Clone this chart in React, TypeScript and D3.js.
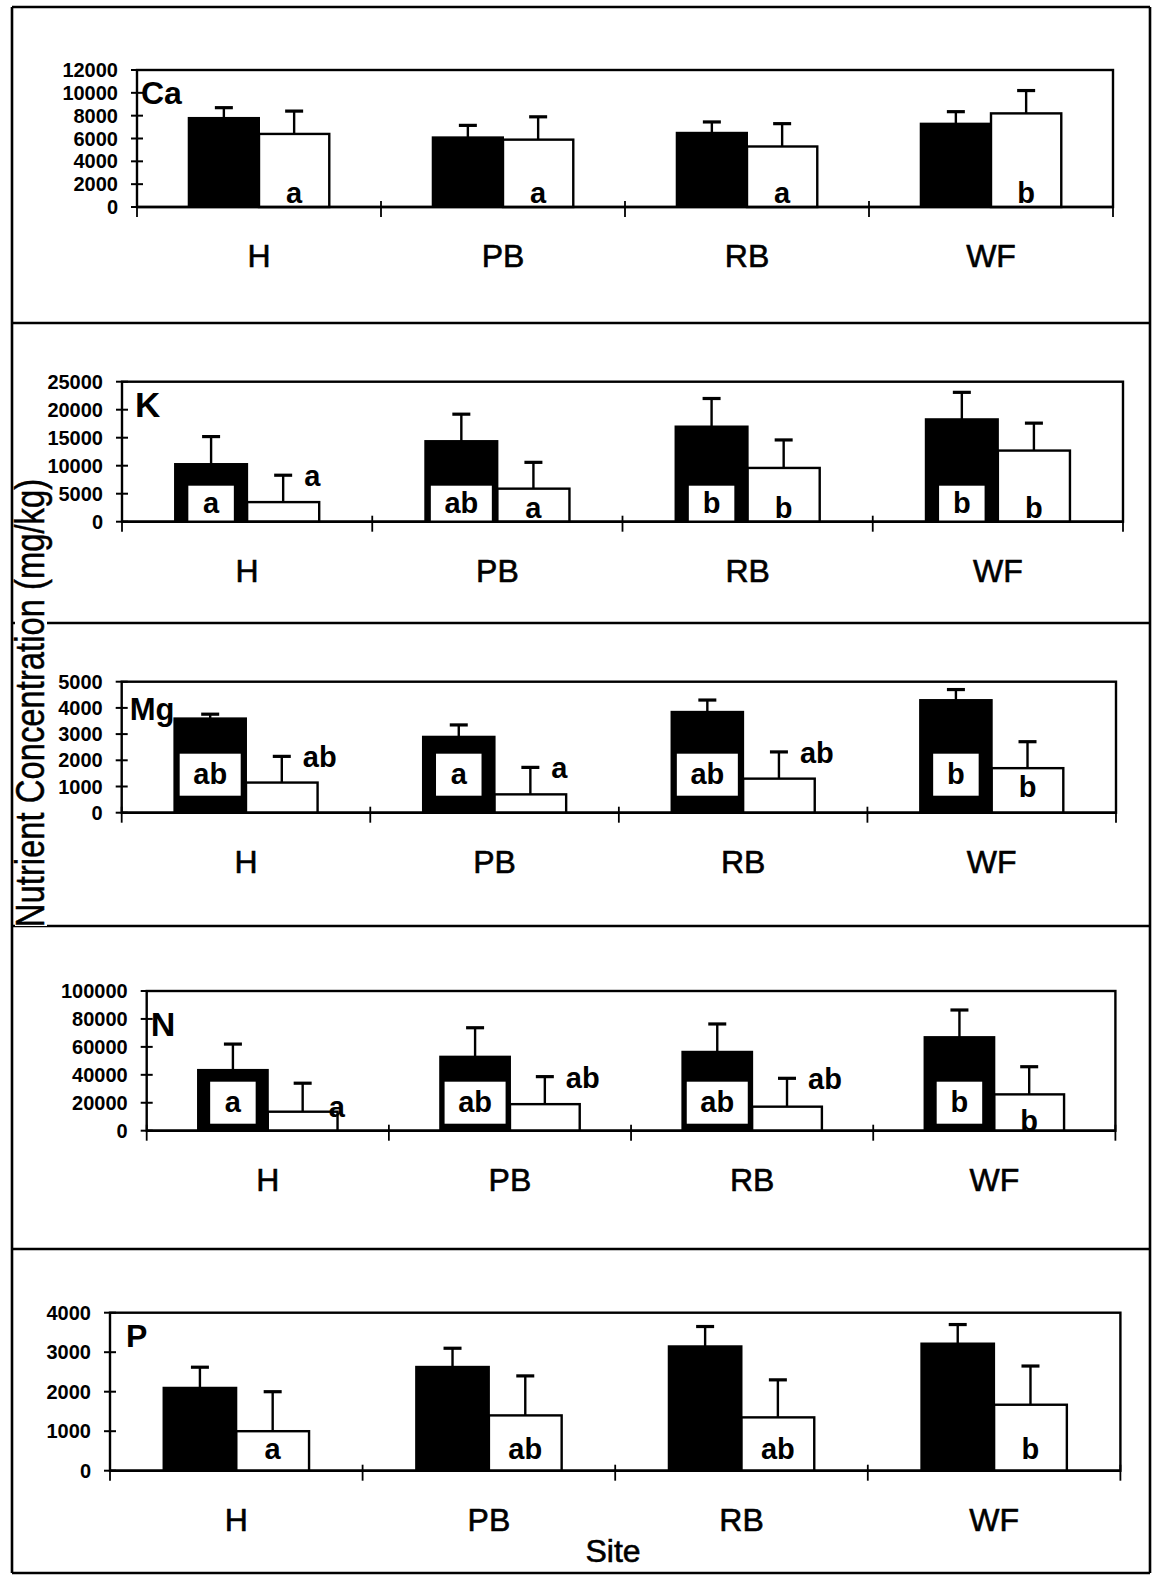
import React from "react";
import * as d3 from "d3";

// ---------- data ----------
const sites = ["H", "PB", "RB", "WF"];
const seriesKeys = ["dark", "open"];

const caDark = [7800, 6100, 6500, 7300];
const caDarkSd = [900, 1050, 950, 1050];
const caOpen = [6400, 5900, 5300, 8200];
const caOpenSd = [2000, 2000, 2000, 2000];
const caDarkLetters = ["", "", "", ""];
const caOpenLetters = ["a", "a", "a", "b"];
const caOpenPlace = ["in", "in", "in", "in"];

const kDark = [10300, 14400, 17000, 18300];
const kDarkSd = [4900, 4800, 5000, 4800];
const kOpen = [3500, 5900, 9600, 12700];
const kOpenSd = [4800, 4700, 5000, 4900];
const kDarkLetters = ["a", "ab", "b", "b"];
const kOpenLetters = ["a", "a", "b", "b"];
const kOpenPlace = ["right", "in", "in", "in"];

const mgDark = [3600, 2900, 3850, 4300];
const mgDarkSd = [160, 450, 450, 400];
const mgOpen = [1150, 700, 1300, 1700];
const mgOpenSd = [1000, 1030, 1020, 1010];
const mgDarkLetters = ["ab", "a", "ab", "b"];
const mgOpenLetters = ["ab", "a", "ab", "b"];
const mgOpenPlace = ["right", "right", "right", "in"];

const nDark = [43500, 53000, 56500, 67000];
const nDarkSd = [18500, 20700, 19900, 19400];
const nOpen = [13600, 19000, 17200, 26000];
const nOpenSd = [20400, 19700, 20300, 19800];
const nDarkLetters = ["a", "ab", "ab", "b"];
const nOpenLetters = ["a", "ab", "ab", "b"];
const nOpenPlace = ["low", "right", "right", "in"];

const pDark = [2100, 2630, 3150, 3220];
const pDarkSd = [520, 470, 500, 480];
const pOpen = [1000, 1400, 1350, 1670];
const pOpenSd = [1000, 1000, 950, 980];
const pDarkLetters = ["", "", "", ""];
const pOpenLetters = ["a", "ab", "ab", "b"];
const pOpenPlace = ["in", "in", "in", "in"];

const nutrients = ["Ca", "K", "Mg", "N", "P"];
const yMax = [12000, 25000, 5000, 100000, 4000];
const yStep = [2000, 5000, 1000, 20000, 1000];
const yAxisTitle = "Nutrient Concentration (mg/kg)";
const xAxisTitle = "Site";

const panelsData = [
  { dark: caDark, darkSd: caDarkSd, open: caOpen, openSd: caOpenSd, dl: caDarkLetters, ol: caOpenLetters, op: caOpenPlace },
  { dark: kDark, darkSd: kDarkSd, open: kOpen, openSd: kOpenSd, dl: kDarkLetters, ol: kOpenLetters, op: kOpenPlace },
  { dark: mgDark, darkSd: mgDarkSd, open: mgOpen, openSd: mgOpenSd, dl: mgDarkLetters, ol: mgOpenLetters, op: mgOpenPlace },
  { dark: nDark, darkSd: nDarkSd, open: nOpen, openSd: nOpenSd, dl: nDarkLetters, ol: nOpenLetters, op: nOpenPlace },
  { dark: pDark, darkSd: pDarkSd, open: pOpen, openSd: pOpenSd, dl: pDarkLetters, ol: pOpenLetters, op: pOpenPlace },
];

// ---------- layout ----------
const W = 1154;
const H = 1575;
const frameX0 = 12;
const frameX1 = 1150;
const frameYs = [7, 323, 623, 926, 1249, 1573];
const layout = [
  { left: 137, top: 70, right: 1113, bottom: 207, nameDx: 4, nameDy: 34, nameSize: 32, inLift: 4, boxLift: 0, boxH: 36 },
  { left: 122, top: 381.7, right: 1123, bottom: 521.7, nameDx: 13, nameDy: 35, nameSize: 35, inLift: 4, boxLift: 0, boxH: 36 },
  { left: 121.7, top: 681.7, right: 1116, bottom: 812.7, nameDx: 8, nameDy: 38, nameSize: 31, inLift: 16, boxLift: 17, boxH: 42 },
  { left: 146.7, top: 991, right: 1115.4, bottom: 1130.7, nameDx: 4, nameDy: 45, nameSize: 34, inLift: 0, boxLift: 7, boxH: 42 },
  { left: 110, top: 1312.7, right: 1120.4, bottom: 1470.7, nameDx: 16, nameDy: 34, nameSize: 32, inLift: 12, boxLift: 0, boxH: 36 },
];

const FONT = "'Liberation Sans', Arial, Helvetica, sans-serif";
const INK = "#000";

function Panel({ i }: { i: number }) {
  const L = layout[i];
  const d = panelsData[i];
  const x = d3.scaleBand<string>().domain(sites).range([L.left, L.right]).paddingInner(0).paddingOuter(0);
  const sub = d3
    .scaleBand<string>()
    .domain(seriesKeys)
    .range([0, x.bandwidth()])
    .paddingInner(0)
    .paddingOuter(0.736);
  const y = d3.scaleLinear().domain([0, yMax[i]]).range([L.bottom, L.top]);
  const ticks = d3.range(0, yMax[i] + 1, yStep[i]);
  const bw = sub.bandwidth();
  const letterSize = 29;
  const boundaries = [...sites.map((s) => x(s) as number), L.right];

  return (
    <g>
      <rect x={L.left} y={L.top} width={L.right - L.left} height={L.bottom - L.top} fill="none" stroke={INK} strokeWidth={2.4} />

      {sites.map((s, k) => {
        const x0 = (x(s) as number) + (sub("dark") as number);
        const x1 = (x(s) as number) + (sub("open") as number);
        const yd = y(d.dark[k]);
        const yo = y(d.open[k]);
        const yde = y(d.dark[k] + d.darkSd[k]);
        const yoe = y(d.open[k] + d.openSd[k]);
        const cd = x0 + bw / 2;
        const co = x1 + bw / 2;
        const dl = d.dl[k];
        const ol = d.ol[k];
        const place = d.op[k];
        const boxW = dl ? Math.min(bw - 8, dl.length * 15.5 + 30) : 0;
        const boxBottom = L.bottom - L.boxLift;
        const boxTop = boxBottom - L.boxH;
        let olX = co;
        let olY = L.bottom - L.inLift;
        let olAnchor = "middle";
        if (place === "right") {
          olX = co + 21;
          olY = yoe + 11;
          olAnchor = "start";
        } else if (place === "low") {
          olX = co + 26;
          olY = yo + 5;
          olAnchor = "start";
        }
        return (
          <g key={s}>
            <line x1={cd} x2={cd} y1={yd} y2={yde} stroke={INK} strokeWidth={2.4} />
            <line x1={cd - 9} x2={cd + 9} y1={yde} y2={yde} stroke={INK} strokeWidth={3.2} />
            <line x1={co} x2={co} y1={yo} y2={yoe} stroke={INK} strokeWidth={2.4} />
            <line x1={co - 9} x2={co + 9} y1={yoe} y2={yoe} stroke={INK} strokeWidth={3.2} />
            <rect x={x0} y={yd} width={bw} height={L.bottom - yd} fill={INK} stroke={INK} strokeWidth={2} />
            <rect x={x1} y={yo} width={bw} height={L.bottom - yo} fill="#fff" stroke={INK} strokeWidth={2.4} />
            {dl ? (
              <g>
                <rect x={cd - boxW / 2} y={boxTop} width={boxW} height={L.boxH} fill="#fff" stroke="none" />
                <text
                  x={cd}
                  y={(boxTop + boxBottom) / 2 + 9}
                  textAnchor="middle"
                  fontFamily={FONT}
                  fontWeight="bold"
                  fontSize={letterSize}
                  fill={INK}
                >
                  {dl}
                </text>
              </g>
            ) : null}
            {ol ? (
              <text x={olX} y={olY} textAnchor={olAnchor as any} fontFamily={FONT} fontWeight="bold" fontSize={letterSize} fill={INK}>
                {ol}
              </text>
            ) : null}
          </g>
        );
      })}

      <line x1={L.left} x2={L.right} y1={L.bottom} y2={L.bottom} stroke={INK} strokeWidth={2.6} />

      {ticks.map((t) => (
        <g key={t}>
          <line x1={L.left - 6} x2={L.left + 6} y1={y(t)} y2={y(t)} stroke={INK} strokeWidth={2} />
          <text
            x={L.left - 19}
            y={y(t) + 7}
            textAnchor="end"
            fontFamily={FONT}
            fontWeight="bold"
            fontSize={20}
            fill={INK}
          >
            {String(t)}
          </text>
        </g>
      ))}

      {boundaries.map((bx, j) => (
        <line key={j} x1={bx} x2={bx} y1={L.bottom - 6} y2={L.bottom + 10} stroke={INK} strokeWidth={1.8} />
      ))}

      {sites.map((s) => (
        <text
          key={s}
          x={(x(s) as number) + x.bandwidth() / 2}
          y={L.bottom + 60}
          textAnchor="middle"
          fontFamily={FONT}
          fontSize={32}
          fill={INK}
          stroke={INK}
          strokeWidth={0.6}
        >
          {s}
        </text>
      ))}

      <text x={L.left + L.nameDx} y={L.top + L.nameDy} fontFamily={FONT} fontWeight="bold" fontSize={L.nameSize} fill={INK}>
        {nutrients[i]}
      </text>
    </g>
  );
}

export default function App() {
  return (
    <div style={{ position: "absolute", left: 0, top: 0, width: W, height: H, background: "#fff" }}>
      <svg width={W} height={H} viewBox={`0 0 ${W} ${H}`} style={{ display: "block" }}>
        <rect x={0} y={0} width={W} height={H} fill="#fff" />
        {frameYs.map((fy, j) => (
          <line key={"h" + j} x1={frameX0} x2={frameX1} y1={fy} y2={fy} stroke={INK} strokeWidth={2.6} />
        ))}
        <line x1={frameX0} x2={frameX0} y1={frameYs[0]} y2={frameYs[frameYs.length - 1]} stroke={INK} strokeWidth={2.6} />
        <line x1={frameX1} x2={frameX1} y1={frameYs[0]} y2={frameYs[frameYs.length - 1]} stroke={INK} strokeWidth={2.6} />

        {/* gap in the panel borders behind the axis title */}
        <rect x={15} y={482} width={32} height={444} fill="#fff" />

        {nutrients.map((n, i) => (
          <Panel key={n} i={i} />
        ))}

        <text
          transform={`translate(44, 703) rotate(-90) scale(0.82, 1)`}
          textAnchor="middle"
          fontFamily={FONT}
          fontSize={40}
          fill={INK}
          stroke={INK}
          strokeWidth={0.5}
        >
          {yAxisTitle}
        </text>

        <text x={613} y={1562} textAnchor="middle" fontFamily={FONT} fontSize={32} fill={INK} stroke={INK} strokeWidth={0.6}>
          {xAxisTitle}
        </text>
      </svg>
    </div>
  );
}
